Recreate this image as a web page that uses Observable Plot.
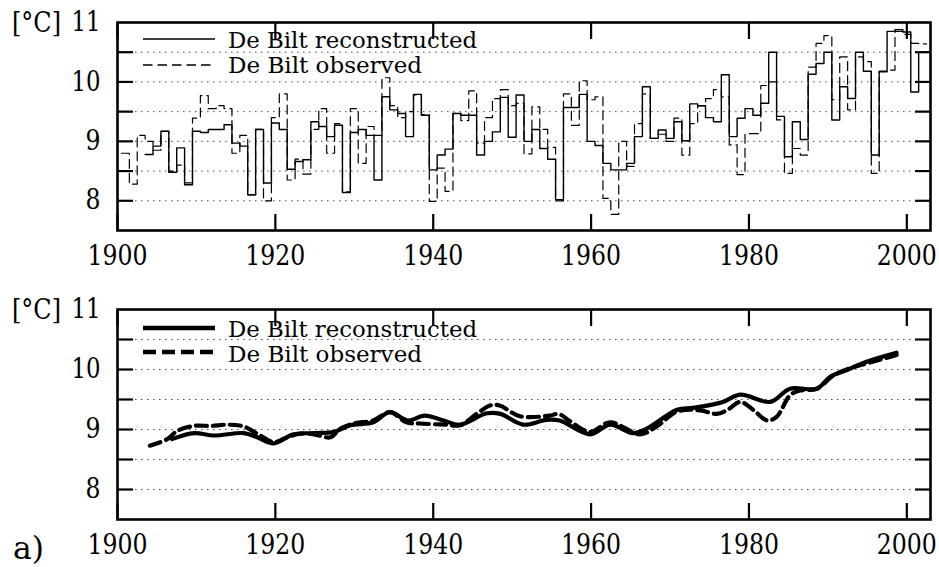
<!DOCTYPE html>
<html>
<head>
<meta charset="utf-8">
<script src="https://cdn.jsdelivr.net/npm/d3@7"></script>
<script src="https://cdn.jsdelivr.net/npm/@observablehq/plot@0.6"></script>
<style>
  html, body { margin: 0; padding: 0; background: #fff; }
  #wrap { position: relative; width: 939px; height: 567px; font-family: "DejaVu Serif Condensed", "DejaVu Serif", serif; overflow: hidden; }
  #wrap > .panel { position: absolute; left: 0; }
  #wrap svg { overflow: visible; }
  #wrap svg text { font-family: "DejaVu Serif Condensed", "DejaVu Serif", serif !important; }
  #legend { position: absolute; left: 0; top: 0; pointer-events: none; }
</style>
</head>
<body>
<div id="wrap"></div>
<script>
// ---------- data ----------
const obsYears = d3.range(1901, 2003);
const obsValues = [
  8.80, 8.28, 9.10, 9.00, 8.85, 9.17, 8.50, 8.60, 8.30, 9.39,
  9.77, 9.55, 9.60, 9.55, 8.80, 9.10, 8.10, 9.20, 8.00, 9.40,
  9.80, 8.35, 8.70, 8.45, 9.20, 9.55, 8.80, 9.30, 8.15, 9.55,
  8.63, 9.25, 9.10, 10.07, 9.60, 9.40, 9.50, 9.78, 9.45, 7.99,
  8.55, 8.16, 9.47, 9.35, 9.85, 8.97, 9.40, 9.72, 9.87, 9.60,
  9.64, 8.79, 9.58, 9.20, 8.90, 8.00, 9.80, 9.27, 10.02, 9.70,
  9.75, 8.04, 7.77, 9.00, 8.58, 9.30, 9.80, 9.05, 9.12, 9.00,
  9.39, 8.77, 9.30, 9.60, 9.72, 9.87, 9.75, 8.94, 8.44, 9.13,
  9.13, 9.94, 10.00, 9.36, 8.46, 8.88, 8.77, 10.25, 10.65, 10.78,
  9.70, 10.42, 9.53, 10.42, 10.34, 8.46, 10.17, 10.20, 10.85, 10.80,
  10.65, 10.64
];
const recYears = d3.range(1904, 2003);
const recValues = [
  8.78, 8.92, 9.17, 8.48, 8.89, 8.27, 9.17, 9.15, 9.20, 9.20,
  9.28, 8.97, 8.92, 8.10, 9.20, 8.30, 9.31, 9.20, 8.53, 8.66,
  8.69, 9.33, 9.25, 9.08, 9.27, 8.14, 9.15, 9.20, 9.10, 8.35,
  9.75, 9.53, 9.47, 9.08, 9.79, 9.44, 8.52, 8.77, 8.87, 9.47,
  9.44, 9.44, 8.77, 9.00, 9.16, 9.74, 9.07, 9.78, 9.00, 9.20,
  8.88, 8.70, 8.02, 9.57, 9.57, 9.79, 9.00, 8.93, 8.63, 8.52,
  8.52, 8.63, 9.08, 9.92, 9.05, 9.19, 9.05, 9.33, 9.01, 9.63,
  9.60, 9.40, 9.33, 10.12, 9.08, 9.39, 9.55, 9.44, 9.64, 10.50,
  9.42, 8.74, 9.33, 9.03, 10.13, 10.31, 10.50, 9.36, 9.92, 9.72,
  10.50, 10.18, 8.77, 10.18, 10.85, 10.88, 10.84, 9.83, 10.50
];
// smoothed series (lower panel)
const recSmoothYears = [1906.9, 1909.7, 1912.2, 1916.0, 1917.7, 1919.8, 1922.3, 1924.9, 1927.4, 1929.5, 1932.4, 1934.5, 1936.8, 1938.9, 1941.3, 1943.4, 1946.8, 1948.5, 1951.4, 1954.3, 1956.0, 1959.9, 1962.4, 1965.3, 1967.0, 1970.9, 1972.9, 1976.7, 1978.9, 1982.7, 1985.2, 1988.6, 1990.3, 1992.4, 1994.9, 1998.7];
const recSmoothValues = [8.84, 8.94, 8.90, 8.94, 8.87, 8.77, 8.92, 8.94, 8.96, 9.07, 9.12, 9.29, 9.15, 9.23, 9.15, 9.08, 9.27, 9.26, 9.08, 9.16, 9.15, 8.92, 9.08, 8.94, 9.01, 9.33, 9.36, 9.46, 9.58, 9.46, 9.68, 9.68, 9.88, 9.99, 10.13, 10.28];
const obsSmoothYears = [1904.1, 1906.3, 1907.6, 1909.7, 1911.8, 1913.9, 1916.0, 1917.7, 1919.8, 1921.5, 1923.2, 1924.9, 1927.0, 1928.2, 1929.9, 1932.4, 1934.5, 1936.6, 1938.3, 1941.7, 1943.4, 1945.5, 1947.2, 1948.4, 1951.0, 1954.7, 1955.9, 1957.2, 1959.9, 1962.4, 1966.2, 1968.3, 1970.9, 1973.8, 1975.9, 1977.2, 1978.9, 1980.6, 1982.3, 1983.5, 1985.2, 1986.5, 1988.6, 1990.7, 1992.8, 1994.9, 1998.7];
const obsSmoothValues = [8.73, 8.84, 8.98, 9.06, 9.06, 9.08, 9.05, 8.93, 8.79, 8.87, 8.93, 8.92, 8.87, 9.01, 9.10, 9.15, 9.29, 9.12, 9.10, 9.08, 9.07, 9.26, 9.40, 9.40, 9.22, 9.23, 9.26, 9.15, 8.96, 9.12, 8.92, 9.05, 9.30, 9.32, 9.26, 9.32, 9.46, 9.32, 9.15, 9.21, 9.57, 9.65, 9.68, 9.90, 10.02, 10.10, 10.24];

const xDomain = [1900, 2003];
const yDomain = [7.5, 11];
const xTicks = [1900, 1920, 1940, 1960, 1980, 2000];
const yLabelTicks = [8, 9, 10, 11];
const yTickMarks = [8, 8.5, 9, 9.5, 10, 10.5];
const gridValues = [8, 8.5, 9, 9.5, 10, 10.5];
const seriesNames = ["De Bilt reconstructed", "De Bilt observed"];
const unitLabel = "[°C]";
const panelLabel = "a)";

(function () {
// ---------- helpers ----------
const FONT = '"DejaVu Serif Condensed", "DejaVu Serif", serif';
const TICK_FONT = 27;
function stepData(years, values) {
  const pts = years.map((yr, i) => ({x: yr - 0.5, y: values[i]}));
  pts.push({x: years[years.length - 1] + 0.5, y: values[values.length - 1]});
  return pts;
}
function pairs(years, values) {
  return years.map((yr, i) => ({x: yr, y: values[i]}));
}
function frameMarks(extra) {
  return [
    Plot.gridY(gridValues, {stroke: "#555", strokeOpacity: 1, strokeWidth: 1, strokeDasharray: "1.6,4.4"}),
    ...extra,
    Plot.axisY(yTickMarks, {anchor: "left", tickSize: -16, strokeWidth: 2.2, tickFormat: () => "", label: null}),
    Plot.axisY(yTickMarks, {anchor: "right", tickSize: -16, strokeWidth: 2.2, tickFormat: () => "", label: null}),
    Plot.axisX(xTicks, {anchor: "top", tickSize: -16, strokeWidth: 2.2, tickFormat: () => "", label: null}),
    Plot.axisX(xTicks, {anchor: "bottom", tickSize: -16, strokeWidth: 2.2, tickFormat: () => "", label: null}),
    Plot.axisY(yLabelTicks, {anchor: "left", tickSize: 0, tickPadding: 17, fontSize: TICK_FONT, tickFormat: "d", label: null}),
    Plot.axisX(xTicks, {anchor: "bottom", tickSize: 0, tickPadding: 15, fontSize: TICK_FONT, tickFormat: "d", label: null}),
    Plot.text([unitLabel], {text: d => d, frameAnchor: "top-left", dx: -81, dy: 1, fontSize: TICK_FONT, textAnchor: "middle", lineAnchor: "middle"}),
    Plot.frame({stroke: "black", strokeWidth: 2.6})
  ];
}
// keep glyph runs at the widths measured on the reference
function fit(t, w) {
  t.setAttribute("textLength", w);
  t.setAttribute("lengthAdjust", "spacingAndGlyphs");
}
function fitPanel(svg) {
  svg.querySelectorAll('g[aria-label="x-axis tick label"] text').forEach(t => { if (t.textContent) fit(t, 60); });
  svg.querySelectorAll('g[aria-label="y-axis tick label"] text').forEach(t => {
    const s = t.textContent;
    if (s) fit(t, s.length === 2 ? 29 : 15);
  });
  svg.querySelectorAll('g[aria-label="text"] text').forEach(t => {
    if (t.textContent === unitLabel) fit(t, 49);
    if (t.textContent === panelLabel) fit(t, 31);
  });
}

const wrap = document.getElementById("wrap");

// ---------- top panel: annual steps ----------
const topPanel = Plot.plot({
  width: 939, height: 287,
  marginTop: 22, marginBottom: 57, marginLeft: 117, marginRight: 9,
  style: {fontFamily: FONT, background: "white", color: "black"},
  x: {domain: xDomain},
  y: {domain: yDomain},
  marks: frameMarks([
    Plot.line(stepData(obsYears, obsValues), {x: "x", y: "y", curve: "step-after", stroke: "black", strokeWidth: 1.2, strokeDasharray: "9,5"}),
    Plot.line(stepData(recYears, recValues), {x: "x", y: "y", curve: "step-after", stroke: "black", strokeWidth: 1.4})
  ])
});
topPanel.classList.add("panel");
topPanel.style.top = "0px";
fitPanel(topPanel);
wrap.appendChild(topPanel);

// ---------- bottom panel: smoothed ----------
const bottomPanel = Plot.plot({
  width: 939, height: 280,
  marginTop: 22, marginBottom: 48, marginLeft: 117, marginRight: 9,
  style: {fontFamily: FONT, background: "white", color: "black"},
  x: {domain: xDomain},
  y: {domain: yDomain},
  marks: frameMarks([
    Plot.line(pairs(obsSmoothYears, obsSmoothValues), {x: "x", y: "y", curve: "catmull-rom", stroke: "black", strokeWidth: 4.2, strokeDasharray: "11,6"}),
    Plot.line(pairs(recSmoothYears, recSmoothValues), {x: "x", y: "y", curve: "catmull-rom", stroke: "black", strokeWidth: 4.2}),
    Plot.text([panelLabel], {text: d => d, frameAnchor: "bottom-left", dx: -89, dy: 30, fontSize: 31, textAnchor: "middle", lineAnchor: "middle"})
  ])
});
bottomPanel.classList.add("panel");
bottomPanel.style.top = "287px";
fitPanel(bottomPanel);
wrap.appendChild(bottomPanel);

// ---------- legends (overlay) ----------
const ns = "http://www.w3.org/2000/svg";
const leg = document.createElementNS(ns, "svg");
leg.setAttribute("id", "legend");
leg.setAttribute("width", 939);
leg.setAttribute("height", 567);
const legendWidths = [249, 194];
function addLegend(y1, y2, b1, b2, sw, dash) {
  const rows = [[y1, b1, null], [y2, b2, dash]];
  rows.forEach(([ly, by, da], i) => {
    const l = document.createElementNS(ns, "line");
    l.setAttribute("x1", 143); l.setAttribute("x2", 215);
    l.setAttribute("y1", ly); l.setAttribute("y2", ly);
    l.setAttribute("stroke", "black"); l.setAttribute("stroke-width", sw);
    if (da) l.setAttribute("stroke-dasharray", da);
    leg.appendChild(l);
    const t = document.createElementNS(ns, "text");
    t.setAttribute("x", 228); t.setAttribute("y", by);
    t.setAttribute("font-size", 23);
    t.textContent = seriesNames[i];
    fit(t, legendWidths[i]);
    leg.appendChild(t);
  });
}
addLegend(39, 65, 48, 73, 1.3, "9.5,5");
addLegend(328, 352, 337, 362, 4.5, "13,6");
wrap.appendChild(leg);
})();
</script>
</body>
</html>
